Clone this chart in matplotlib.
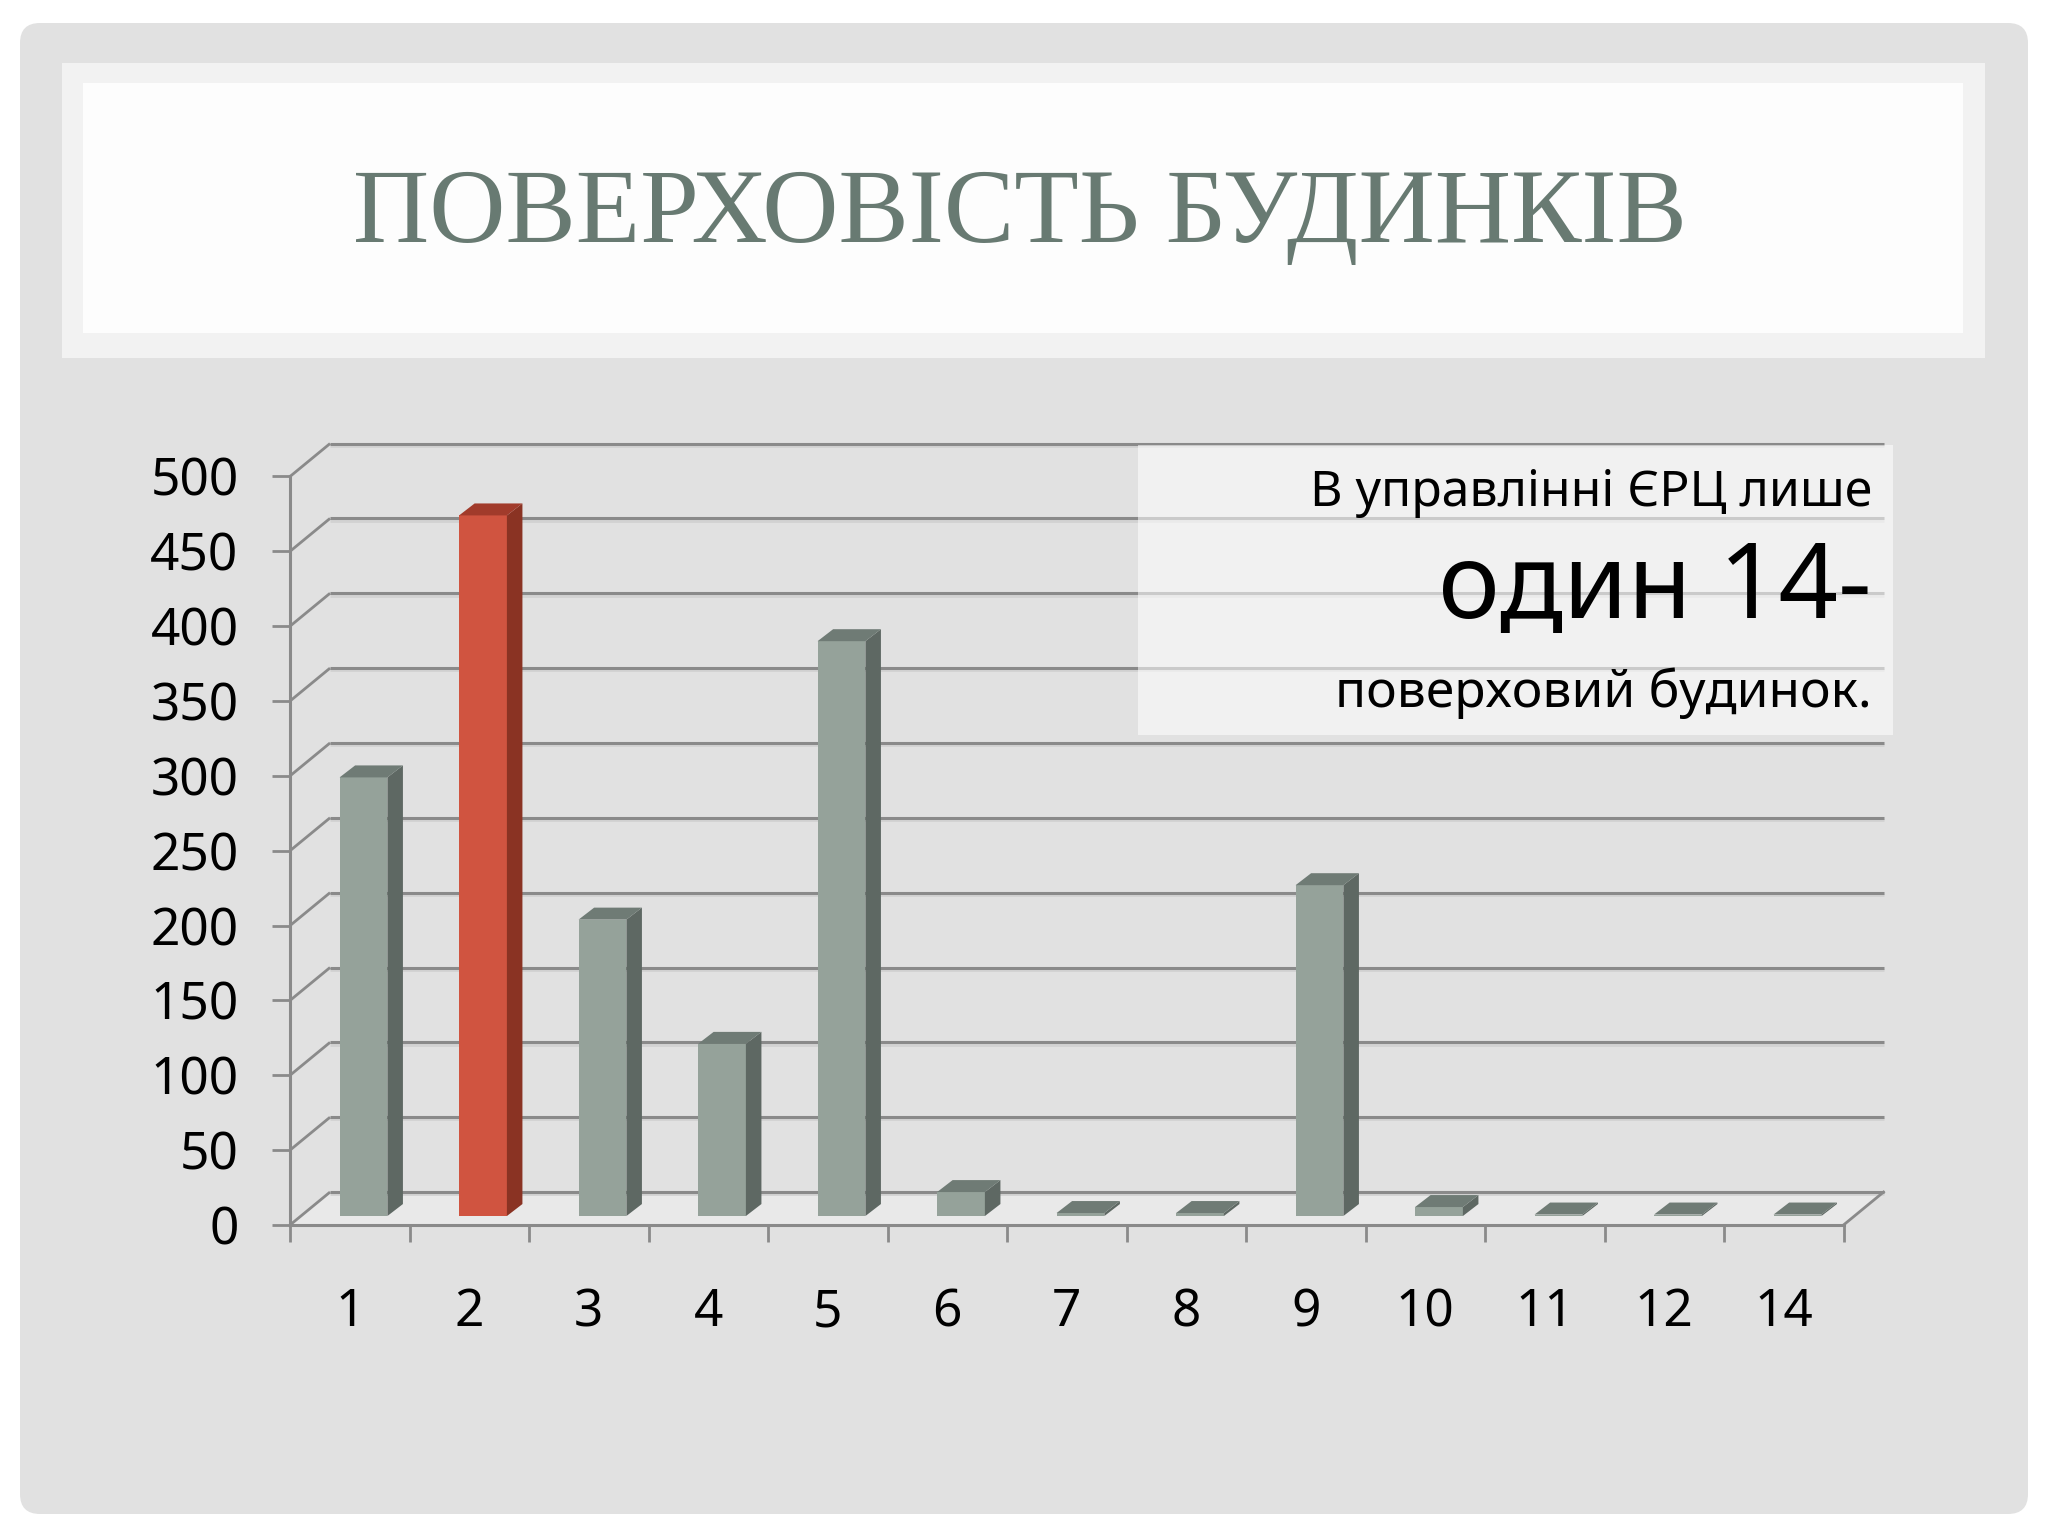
import numpy as np
import matplotlib
matplotlib.use('Agg')
import matplotlib.pyplot as plt
from matplotlib.patches import FancyBboxPatch, Rectangle, Polygon

# chart data
floors = ['1', '2', '3', '4', '5', '6', '7', '8', '9', '10', '11', '12', '14']
buildings = [293, 468, 198, 115, 384, 16, 2, 2, 221, 6, 1, 1, 1]
highlight = '2'
y_ticks = list(range(0, 501, 50))

title = 'ПОВЕРХОВІСТЬ БУДИНКІВ'
note_lines = ['В управлінні ЄРЦ лише', 'один 14-', 'поверховий будинок.']

plt.rcParams['font.family'] = ['Noto Sans', 'DejaVu Sans']

W, H = 2048, 1536
fig = plt.figure(figsize=(W / 100, H / 100), dpi=100)
fig.patch.set_facecolor('white')

# slide background in pixel coordinates
bg = fig.add_axes([0, 0, 1, 1])
bg.set_xlim(0, W)
bg.set_ylim(H, 0)
bg.axis('off')
bg.add_patch(FancyBboxPatch((20, 23), 2008, 1491, boxstyle='round,pad=0,rounding_size=20',
                            fc='#e1e1e1', ec='none'))
bg.add_patch(Rectangle((62, 63), 1923, 295, fc='#f2f2f2', ec='none'))
bg.add_patch(Rectangle((83, 83), 1880, 250, fc='#fdfdfd', ec='none'))
bg.text(1020, 242, title, ha='center', va='baseline', fontsize=76,
        family=['Liberation Serif', 'DejaVu Serif'], color='#687a72')

# chart axes: x in category units, y in value units
x0_px, y0_px = 290, H - 1225          # origin of front axis
sx, sy = 119.5, 1.497                 # pixels per unit
xlim = (-0.7, 14.0)
ylim = (-65, 545)
left = x0_px + xlim[0] * sx
bottom = y0_px + ylim[0] * sy
ax = fig.add_axes([left / W, bottom / H, (xlim[1] - xlim[0]) * sx / W, (ylim[1] - ylim[0]) * sy / H])
ax.set_xlim(*xlim)
ax.set_ylim(*ylim)
ax.patch.set_visible(False)

n = len(floors)
DX, DY = 0.335, 22          # depth of back wall
axis_color = '#8a8a8a'

# floor and back wall grid
ax.add_patch(Polygon([(0, 0), (n, 0), (n + DX, DY), (DX, DY)], closed=True,
                     fc='#e9e9e9', ec='none', zorder=0.5))
for v in y_ticks:
    ax.plot([0, DX], [v, v + DY], color=axis_color, lw=2, zorder=1, solid_capstyle='butt')
ax.hlines([v + DY - 1.5 for v in y_ticks], DX, n + DX, color='#d2d2d2', lw=2, zorder=0.9)
ax.hlines([v + DY for v in y_ticks], DX, n + DX, color=axis_color, lw=2.2, zorder=1)
ax.plot([n, n + DX], [0, DY], color=axis_color, lw=2, zorder=1)

# bars with a fake 3d side and top
BASE = 6
BAR_OFF, BAR_W = 0.415, 0.40
BDX, BDY = 0.13, 8
grey = ('#95a29a', '#5e6863', '#6f7b75')
red = ('#d05440', '#8a3323', '#a13b2b')
xs = np.arange(n) + BAR_OFF
shades = [red if f == highlight else grey for f in floors]
ax.bar(xs, buildings, width=BAR_W, bottom=BASE, align='edge',
       color=[s[0] for s in shades], edgecolor='none', zorder=3)
for x, v, s in zip(xs, buildings, shades):
    xr = x + BAR_W
    top = BASE + v
    ax.add_patch(Polygon([(xr, BASE), (xr + BDX, BASE + BDY), (xr + BDX, top + BDY), (xr, top)],
                         closed=True, fc=s[1], ec='none', zorder=3))
    ax.add_patch(Polygon([(x, top), (x + BDX, top + BDY), (xr + BDX, top + BDY), (xr, top)],
                         closed=True, fc=s[2], ec='none', zorder=3))

# axes, ticks and labels
for side in ['top', 'right']:
    ax.spines[side].set_visible(False)
ax.spines['left'].set_position(('data', 0))
ax.spines['left'].set_bounds(0, 500)
ax.spines['bottom'].set_position(('data', 0))
ax.spines['bottom'].set_bounds(0, n)
for side in ['left', 'bottom']:
    ax.spines[side].set_color(axis_color)
    ax.spines[side].set_linewidth(2.2)
    ax.spines[side].set_zorder(2)

ax.set_yticks(y_ticks)
ax.set_yticklabels([str(v) for v in y_ticks])
ax.tick_params(axis='y', length=13, width=2, color=axis_color, pad=24, labelsize=37)

ax.set_xticks(np.arange(n + 1))
ax.set_xticklabels([''] * (n + 1))
ax.set_xticks(np.arange(n) + 0.5, minor=True)
ax.set_xticklabels(floors, minor=True)
ax.tick_params(axis='x', which='major', length=12, width=2, color=axis_color)
ax.tick_params(axis='x', which='minor', length=0, pad=45, labelsize=37)

# note box
ax.add_patch(Rectangle((1138, 445), 755, 290, transform=bg.transData, fc='white',
                       alpha=0.55, ec='none', zorder=4, clip_on=False))
for txt, yb, fs in zip(note_lines, [506, 618, 707], [36, 75, 37]):
    ax.text(1872, yb, txt, transform=bg.transData, ha='right', va='baseline',
            fontsize=fs, color='black', zorder=5, clip_on=False)

fig.savefig('out.png', dpi=100, facecolor='white')
